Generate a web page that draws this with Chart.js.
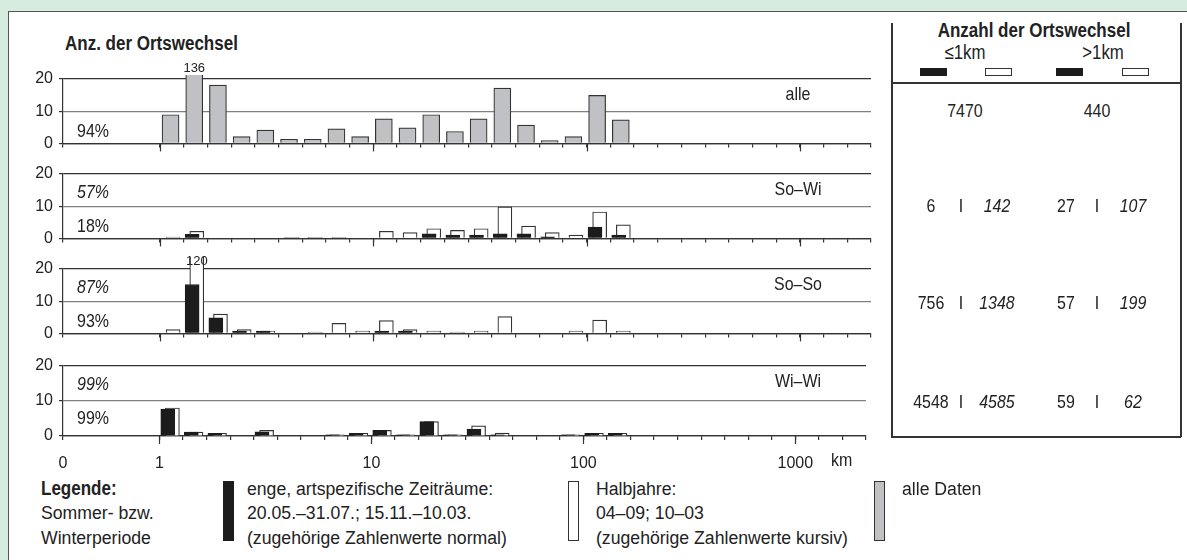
<!DOCTYPE html>
<html lang="de">
<head>
    <meta charset="UTF-8">
    <title>Anzahl der Ortswechsel</title>
    <script src="https://cdn.jsdelivr.net/npm/chart.js"></script>
    <style>
        body {
            margin: 0;
            width: 1187px;
            height: 560px;
            overflow: hidden;
            position: relative;
            background: #d6ecdf;
            font-family: "Liberation Sans", Arial, sans-serif;
            color: #222;
        }
        .sheet {
            position: absolute;
            left: 8px;
            top: 11px;
            right: 0;
            bottom: 0;
            background: #fff;
            border-top: 1.5px solid #555;
            border-left: 1.5px solid #555;
        }
        .txt {
            position: absolute;
            white-space: nowrap;
            line-height: 1;
        }
        .box {
            position: absolute;
            box-sizing: border-box;
        }
        canvas.panel {
            position: absolute;
            left: 0;
        }
    </style>
</head>
<body>
    <div class="sheet"></div>

    <script>
        // Klassen: je 1/9 Dekade ab 1 km (20 Klassen bis ~167 km)
        const alleDaten = [8.9, 136, 18.1, 2.1, 4.1, 1.3, 1.3, 4.5, 2.1, 7.6, 4.8, 8.9, 3.7, 7.6, 17.2, 5.7, 0.9, 2.1, 14.9, 7.3];

        const soWiEng  = [0, 1.3, 0, 0, 0, 0, 0, 0, 0, 0, 0, 1.4, 1.0, 1.0, 1.4, 1.4, 0.5, 0, 3.5, 1.0];
        const soWiHalb = [0.4, 2.2, 0, 0, 0, 0.3, 0.3, 0.3, 0, 2.2, 1.8, 3.0, 2.5, 3.0, 9.8, 3.8, 1.8, 1.0, 8.2, 4.2];

        const soSoEng  = [0, 15.2, 4.8, 0.75, 0.75, 0, 0, 0, 0, 0.75, 0.75, 0, 0, 0, 0, 0, 0, 0, 0, 0];
        const soSoHalb = [1.2, 120, 6.0, 1.2, 0.75, 0, 0.4, 3.1, 0.75, 4.0, 1.2, 0.75, 0.4, 0.75, 5.2, 0, 0, 0.75, 4.1, 0.75];

        const wiWiEng  = [7.7, 1.1, 0.75, 0, 1.2, 0, 0, 0.3, 0.75, 1.6, 0.3, 4.1, 0.3, 2.0, 0.3, 0, 0, 0.3, 0.75, 0.75];
        const wiWiHalb = [8.0, 1.1, 0.75, 0, 1.6, 0, 0, 0.3, 0.75, 1.6, 0.3, 4.1, 0.3, 2.9, 0.85, 0, 0, 0.3, 0.75, 0.75];

        const panelNames = ['alle', 'So–Wi', 'So–So', 'Wi–Wi'];
        const pctKursiv = ['', '57%', '87%', '99%'];
        const pctNormal = ['94%', '18%', '93%', '99%'];

        const yTicks = [0, 10, 20];
        const decadeLabels = ['1', '10', '100', '1000'];

        const tabelleKopf = ['≤1km', '>1km'];
        const summeAlle = ['7470', '440'];
        const tabelleZeilen = [
            ['6', '142', '27', '107'],
            ['756', '1348', '57', '199'],
            ['4548', '4585', '59', '62']
        ];

        // Layout
        const FONT = '"Liberation Sans", Arial, sans-serif';
        const X_ZERO = -0.455;          // Stelle der "0" links von 1 km
        const X_MAX = 30 / 9;
        const panelTop = [79, 174, 269, 366];   // y der 20er-Linie
        const PANEL_H = 70;
        const PAD_TOP = 24;
        const overflowClip = [4, 0, 12, 0];
        const NARROW = 0.84;            // schmale Schrift nachbilden

        Chart.defaults.font.family = FONT;
        Chart.defaults.color = '#222';

        function put(text, x, base, o = {}) {
            const el = document.createElement('div');
            el.className = 'txt';
            el.textContent = text;
            const fs = o.size || 18;
            const sx = o.sx || (o.bold ? 0.85 : NARROW);
            el.style.fontSize = fs + 'px';
            el.style.left = x + 'px';
            el.style.top = (base - 0.85 * fs) + 'px';
            if (o.bold) el.style.fontWeight = 'bold';
            if (o.italic) el.style.fontStyle = 'italic';
            if (o.align === 'center') {
                el.style.transformOrigin = '50% 0';
                el.style.transform = 'translateX(-50%) scaleX(' + sx + ')';
            } else if (o.align === 'right') {
                el.style.transformOrigin = '100% 0';
                el.style.transform = 'translateX(-100%) scaleX(' + sx + ')';
            } else {
                el.style.transformOrigin = '0 0';
                el.style.transform = 'scaleX(' + sx + ')';
            }
            document.body.appendChild(el);
        }

        function box(x, y, w, h, css) {
            const el = document.createElement('div');
            el.className = 'box';
            el.style.left = x + 'px';
            el.style.top = y + 'px';
            el.style.width = w + 'px';
            el.style.height = h + 'px';
            Object.assign(el.style, css);
            document.body.appendChild(el);
        }

        function barData(values, shift) {
            return values.map((v, k) => ({ x: (k + shift) / 9, y: v > 0 ? v : null }));
        }

        const decadeTicks = {
            id: 'decadeTicks',
            afterDraw(chart) {
                const x = chart.scales.x, ctx = chart.ctx, bottom = chart.chartArea.bottom;
                ctx.save();
                ctx.strokeStyle = '#333';
                ctx.lineWidth = 1.2;
                decadeLabels.forEach(lbl => {
                    const px = Math.round(x.getPixelForValue(Math.log10(Number(lbl)))) + 0.5;
                    ctx.beginPath();
                    ctx.moveTo(px, bottom);
                    ctx.lineTo(px, bottom + 8);
                    ctx.stroke();
                });
                ctx.restore();
            }
        };

        const overflowLabels = {
            id: 'overflowLabels',
            afterDatasetsDraw(chart, args, opts) {
                const ctx = chart.ctx, top = chart.chartArea.top - opts.clip;
                ctx.save();
                ctx.font = '13px ' + FONT;
                ctx.fillStyle = '#222';
                ctx.textAlign = 'center';
                chart.data.datasets.forEach((ds, di) => {
                    const meta = chart.getDatasetMeta(di);
                    ds.data.forEach((p, j) => {
                        if (p.y === null || p.y <= 20) return;
                        const bx = meta.data[j].x;
                        if (opts.inside) {
                            ctx.textBaseline = 'top';
                            ctx.fillText(String(p.y), bx, top - 2);
                        } else {
                            ctx.textBaseline = 'bottom';
                            ctx.fillText(String(p.y), bx, top);
                        }
                    });
                });
                ctx.restore();
            }
        };

        function makePanel(i, datasets) {
            const isLast = i === 3;
            const bottomH = isLast ? 40 : 10;
            const cv = document.createElement('canvas');
            cv.className = 'panel';
            cv.width = 880;
            cv.height = PAD_TOP + PANEL_H + bottomH;
            cv.style.top = (panelTop[i] - PAD_TOP) + 'px';
            document.body.appendChild(cv);

            return new Chart(cv.getContext('2d'), {
                type: 'bar',
                data: { datasets: datasets },
                options: {
                    responsive: false,
                    animation: false,
                    devicePixelRatio: 1,
                    layout: { padding: { top: PAD_TOP, left: 0, right: 9, bottom: 0 } },
                    plugins: {
                        legend: { display: false },
                        tooltip: { enabled: false },
                        overflowLabels: { clip: overflowClip[i], inside: i === 2 }
                    },
                    scales: {
                        x: {
                            type: 'linear',
                            min: X_ZERO,
                            max: X_MAX,
                            offset: false,
                            afterBuildTicks: s => {
                                const t = [X_ZERO];
                                for (let k = 0; k <= 30; k++) t.push(k / 9);
                                s.ticks = t.map(v => ({ value: v }));
                            },
                            afterFit: s => { s.height = bottomH; },
                            ticks: {
                                display: isLast,
                                autoSkip: false,
                                maxRotation: 0,
                                padding: 14,
                                font: { size: 16 },
                                color: '#222',
                                callback: (v, idx) => {
                                    if (idx === 0) return '0';
                                    return (idx - 1) % 9 === 0 ? decadeLabels[(idx - 1) / 9] : '';
                                }
                            },
                            grid: { drawOnChartArea: false, offset: false, tickLength: 4, tickColor: '#333', lineWidth: 1.2 },
                            border: { color: '#333', width: 1.2 }
                        },
                        y: {
                            min: 0,
                            max: 20,
                            afterBuildTicks: s => { s.ticks = yTicks.map(v => ({ value: v })); },
                            afterFit: s => { s.width = 63; },
                            ticks: { font: { size: 16 }, color: '#222', padding: 6 },
                            grid: {
                                color: c => (c.tick && c.tick.value === 10) ? '#808080' : '#333',
                                lineWidth: 1.2,
                                tickLength: 4,
                                tickColor: '#333'
                            },
                            border: { color: '#333', width: 1.2 }
                        }
                    }
                },
                plugins: [decadeTicks, overflowLabels]
            });
        }

        function engSet(values, clip) {
            return {
                data: barData(values, 0.354),
                backgroundColor: '#1c1c1c',
                borderColor: '#1c1c1c',
                borderWidth: 1,
                barThickness: 14,
                grouped: false,
                clip: { left: 20, top: clip, right: 20, bottom: 4 }
            };
        }

        function halbSet(values, clip) {
            return {
                data: barData(values, 0.55),
                backgroundColor: '#ffffff',
                borderColor: '#333',
                borderWidth: 1.2,
                barThickness: 14,
                grouped: false,
                clip: { left: 20, top: clip, right: 20, bottom: 4 }
            };
        }

        makePanel(0, [{
            data: barData(alleDaten, 0.443),
            backgroundColor: '#c0c1c5',
            borderColor: '#333',
            borderWidth: 1.2,
            barThickness: 17,
            grouped: false,
            clip: { left: 20, top: overflowClip[0], right: 20, bottom: 4 }
        }]);
        makePanel(1, [engSet(soWiEng, 0), halbSet(soWiHalb, 0)]);
        makePanel(2, [engSet(soSoEng, overflowClip[2]), halbSet(soSoHalb, overflowClip[2])]);
        makePanel(3, [engSet(wiWiEng, 0), halbSet(wiWiHalb, 0)]);

        // Beschriftung der Teilgrafiken
        put('Anz. der Ortswechsel', 65, 50, { size: 20, bold: true });
        panelNames.forEach((name, i) => put(name, 798, panelTop[i] + 21, { size: 19, align: 'center' }));
        pctKursiv.forEach((p, i) => { if (p) put(p, 77, panelTop[i] + 24.5, { size: 19, italic: true }); });
        pctNormal.forEach((p, i) => put(p, 77, panelTop[i] + 58.5, { size: 19 }));
        put('km', 831, 466, { size: 19 });

        // Tabelle rechts
        box(891, 23, 1.5, 414, { background: '#333' });
        box(1180, 23, 1.5, 414, { background: '#333' });
        box(891, 82, 290, 1.5, { background: '#333' });
        box(891, 436, 290, 1.5, { background: '#333' });
        put('Anzahl der Ortswechsel', 1034, 37, { size: 20, bold: true, align: 'center' });
        put(tabelleKopf[0], 965, 59, { size: 20, align: 'center' });
        put(tabelleKopf[1], 1103, 59, { size: 20, align: 'center' });
        box(920, 68, 27, 8, { background: '#1c1c1c' });
        box(985, 68, 27, 8, { background: '#fff', border: '1.2px solid #333' });
        box(1056, 68, 27, 8, { background: '#1c1c1c' });
        box(1122, 68, 27, 8, { background: '#fff', border: '1.2px solid #333' });
        put(summeAlle[0], 965, 117, { size: 19, align: 'center' });
        put(summeAlle[1], 1097, 117, { size: 19, align: 'center' });
        const zeilenBase = [212.5, 309, 408];
        tabelleZeilen.forEach((z, r) => {
            const b = zeilenBase[r];
            put(z[0], 931, b, { size: 19, align: 'center' });
            put('I', 961, b, { size: 19, align: 'center' });
            put(z[1], 997, b, { size: 19, align: 'center', italic: true });
            put(z[2], 1066, b, { size: 19, align: 'center' });
            put('I', 1097, b, { size: 19, align: 'center' });
            put(z[3], 1133, b, { size: 19, align: 'center', italic: true });
        });

        // Legende
        const legBase = [495, 519.5, 544];
        const leg = { size: 18, sx: 0.98 };
        put('Legende:', 41, legBase[0], { size: 20, bold: true });
        put('Sommer- bzw.', 41, legBase[1], leg);
        put('Winterperiode', 41, legBase[2], leg);
        box(222.5, 481, 11, 60, { background: '#1c1c1c' });
        ['enge, artspezifische Zeiträume:', '20.05.–31.07.; 15.11.–10.03.', '(zugehörige Zahlenwerte normal)']
            .forEach((t, r) => put(t, 247, legBase[r], leg));
        box(568, 481, 11, 60, { background: '#fff', border: '1.2px solid #333' });
        ['Halbjahre:', '04–09; 10–03', '(zugehörige Zahlenwerte kursiv)']
            .forEach((t, r) => put(t, 596, legBase[r], leg));
        box(874, 481, 11, 60, { background: '#c0c1c5', border: '1.2px solid #333' });
        put('alle Daten', 902, legBase[0], leg);
    </script>
</body>
</html>
